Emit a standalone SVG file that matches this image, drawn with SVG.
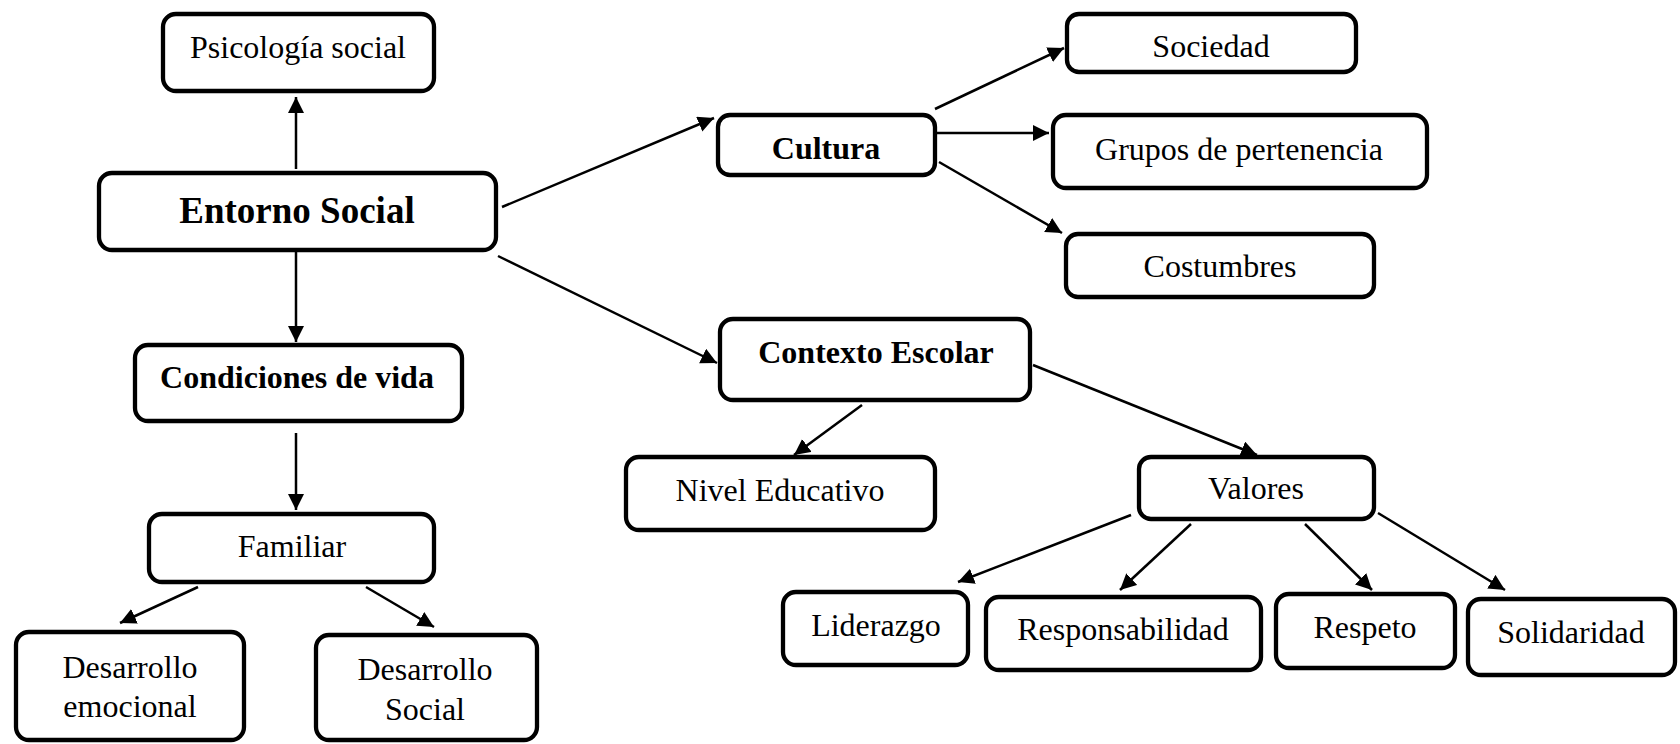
<svg xmlns="http://www.w3.org/2000/svg" width="1680" height="744" viewBox="0 0 1680 744">
<style>
.box{fill:#fff;stroke:#000;stroke-width:4.3}
.t{font-family:"Liberation Serif","Times New Roman",serif;font-size:32px;fill:#000;text-anchor:middle}
.b{font-weight:bold}
.c line{stroke:#000;stroke-width:2.5;marker-end:url(#ah)}
</style>
<defs>
<marker id="ah" markerUnits="userSpaceOnUse" markerWidth="17" markerHeight="17" refX="16" refY="8" orient="auto">
<path d="M0,0 L16,8 L0,16 z" fill="#000"/>
</marker>
</defs>
<rect width="1680" height="744" fill="#fff"/>
<g id="connectors" class="c">
<line x1="296" y1="169" x2="296" y2="97"/>
<line x1="296" y1="252" x2="296" y2="342"/>
<line x1="296" y1="433" x2="296" y2="510"/>
<line x1="198" y1="587" x2="120" y2="623"/>
<line x1="366" y1="587" x2="434" y2="627"/>
<line x1="502" y1="207" x2="714" y2="118"/>
<line x1="498" y1="256" x2="717" y2="363"/>
<line x1="935" y1="109" x2="1064" y2="48"/>
<line x1="937" y1="133" x2="1049" y2="133"/>
<line x1="939" y1="162" x2="1062" y2="233"/>
<line x1="862" y1="405" x2="794" y2="455"/>
<line x1="1033" y1="365" x2="1257" y2="455"/>
<line x1="1131" y1="515" x2="958" y2="582"/>
<line x1="1191" y1="524" x2="1120" y2="590"/>
<line x1="1305" y1="524" x2="1372" y2="590"/>
<line x1="1378" y1="513" x2="1505" y2="590"/>
</g>
<g id="psicologia"><rect class="box" x="163" y="14" width="271" height="77" rx="13"/><text class="t" x="298" y="58">Psicología social</text></g>
<g id="entorno"><rect class="box" x="99" y="173" width="397" height="77" rx="13"/><text class="t b" x="297" y="223" style="font-size:37px">Entorno Social</text></g>
<g id="condiciones"><rect class="box" x="135" y="345" width="327" height="76" rx="13"/><text class="t b" x="297" y="388">Condiciones de vida</text></g>
<g id="familiar"><rect class="box" x="149" y="514" width="285" height="68" rx="13"/><text class="t" x="292" y="557">Familiar</text></g>
<g id="des-emocional"><rect class="box" x="16" y="632" width="228" height="108" rx="13"/><text class="t" x="130" y="678">Desarrollo</text><text class="t" x="130" y="717">emocional</text></g>
<g id="des-social"><rect class="box" x="316" y="635" width="221" height="105" rx="13"/><text class="t" x="425" y="680">Desarrollo</text><text class="t" x="425" y="720">Social</text></g>
<g id="cultura"><rect class="box" x="718" y="115" width="217" height="60" rx="12"/><text class="t b" x="826" y="159">Cultura</text></g>
<g id="sociedad"><rect class="box" x="1067" y="14" width="289" height="58" rx="12"/><text class="t" x="1211" y="57">Sociedad</text></g>
<g id="grupos"><rect class="box" x="1053" y="115" width="374" height="73" rx="13"/><text class="t" x="1239" y="160">Grupos de pertenencia</text></g>
<g id="costumbres"><rect class="box" x="1066" y="234" width="308" height="63" rx="12"/><text class="t" x="1220" y="277">Costumbres</text></g>
<g id="contexto"><rect class="box" x="720" y="319" width="310" height="81" rx="13"/><text class="t b" x="876" y="363">Contexto Escolar</text></g>
<g id="nivel"><rect class="box" x="626" y="457" width="309" height="73" rx="13"/><text class="t" x="780" y="501">Nivel Educativo</text></g>
<g id="valores"><rect class="box" x="1139" y="457" width="235" height="62" rx="12"/><text class="t" x="1256" y="499">Valores</text></g>
<g id="liderazgo"><rect class="box" x="783" y="592" width="185" height="73" rx="13"/><text class="t" x="876" y="636">Liderazgo</text></g>
<g id="responsabilidad"><rect class="box" x="986" y="597" width="275" height="73" rx="13"/><text class="t" x="1123" y="640">Responsabilidad</text></g>
<g id="respeto"><rect class="box" x="1276" y="594" width="179" height="74" rx="13"/><text class="t" x="1365" y="638">Respeto</text></g>
<g id="solidaridad"><rect class="box" x="1468" y="599" width="207" height="76" rx="13"/><text class="t" x="1571" y="643">Solidaridad</text></g>
</svg>
